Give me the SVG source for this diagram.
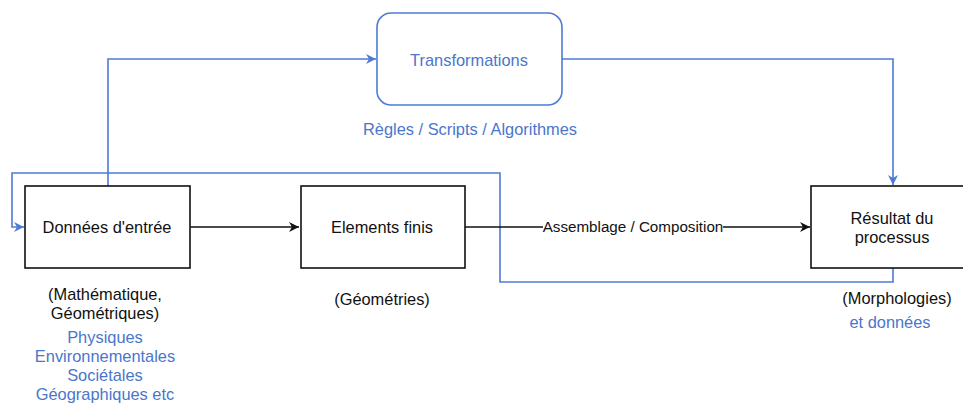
<svg xmlns="http://www.w3.org/2000/svg" width="963" height="403" viewBox="0 0 963 403">
<style>
text{font-family:"Liberation Sans",Arial,Helvetica,sans-serif;font-size:16.4px;text-anchor:middle;fill:#111}
.b{fill:#4a76cc}
.box{fill:#fff;stroke:#111;stroke-width:1.6}
.tbox{fill:#fff;stroke:#4d7bd6;stroke-width:1.6}
.k{fill:none;stroke:#111;stroke-width:1.5}
.bl{fill:none;stroke:#4d7bd6;stroke-width:1.6}
</style>
<defs>
<marker id="ak" viewBox="0 0 10 10" refX="10" refY="5" markerWidth="10" markerHeight="10" markerUnits="userSpaceOnUse" orient="auto"><path d="M0,0 L10,5 L0,10 L3,5 z" fill="#111"/></marker>
<marker id="ab" viewBox="0 0 10 10" refX="10" refY="5" markerWidth="10" markerHeight="10" markerUnits="userSpaceOnUse" orient="auto"><path d="M0,0 L10,5 L0,10 L3,5 z" fill="#4d7bd6"/></marker>
</defs>
<g id="connectors">
<path class="bl" d="M893,268 V282 H500 V173 H12 V227 H24" marker-end="url(#ab)"/>
<path class="bl" d="M108,186 V59 H376" marker-end="url(#ab)"/>
<path class="bl" d="M562,59 H893 V185" marker-end="url(#ab)"/>
<path class="k" d="M190,227 H299" marker-end="url(#ak)"/>
<path class="k" d="M465,227 H810" marker-end="url(#ak)"/>
<rect x="543" y="218" width="180" height="18" fill="#fff"/>
<text x="633" y="232" style="font-size:15.2px">Assemblage / Composition</text>
</g>
<g id="transformations">
<rect class="tbox" x="377" y="13" width="185" height="92" rx="14"/>
<text class="b" x="469" y="66">Transformations</text>
<text class="b" x="470" y="135">Règles / Scripts / Algorithmes</text>
</g>
<g id="donnees">
<rect class="box" x="25" y="186" width="165" height="82"/>
<text x="107" y="233">Données d'entrée</text>
<text x="105" y="300">(Mathématique,</text>
<text x="105" y="319">Géométriques)</text>
<text class="b" x="105" y="343">Physiques</text>
<text class="b" x="105" y="362">Environnementales</text>
<text class="b" x="105" y="381">Sociétales</text>
<text class="b" x="105" y="400">Géographiques etc</text>
</g>
<g id="elements">
<rect class="box" x="301" y="186" width="164" height="82"/>
<text x="382" y="233">Elements finis</text>
<text x="382" y="305">(Géométries)</text>
</g>
<g id="resultat">
<rect class="box" x="811" y="186" width="170" height="82"/>
<text x="892" y="224">Résultat du</text>
<text x="892" y="243">processus</text>
<text x="897" y="304">(Morphologies)</text>
<text class="b" x="890" y="328">et données</text>
</g>
</svg>
